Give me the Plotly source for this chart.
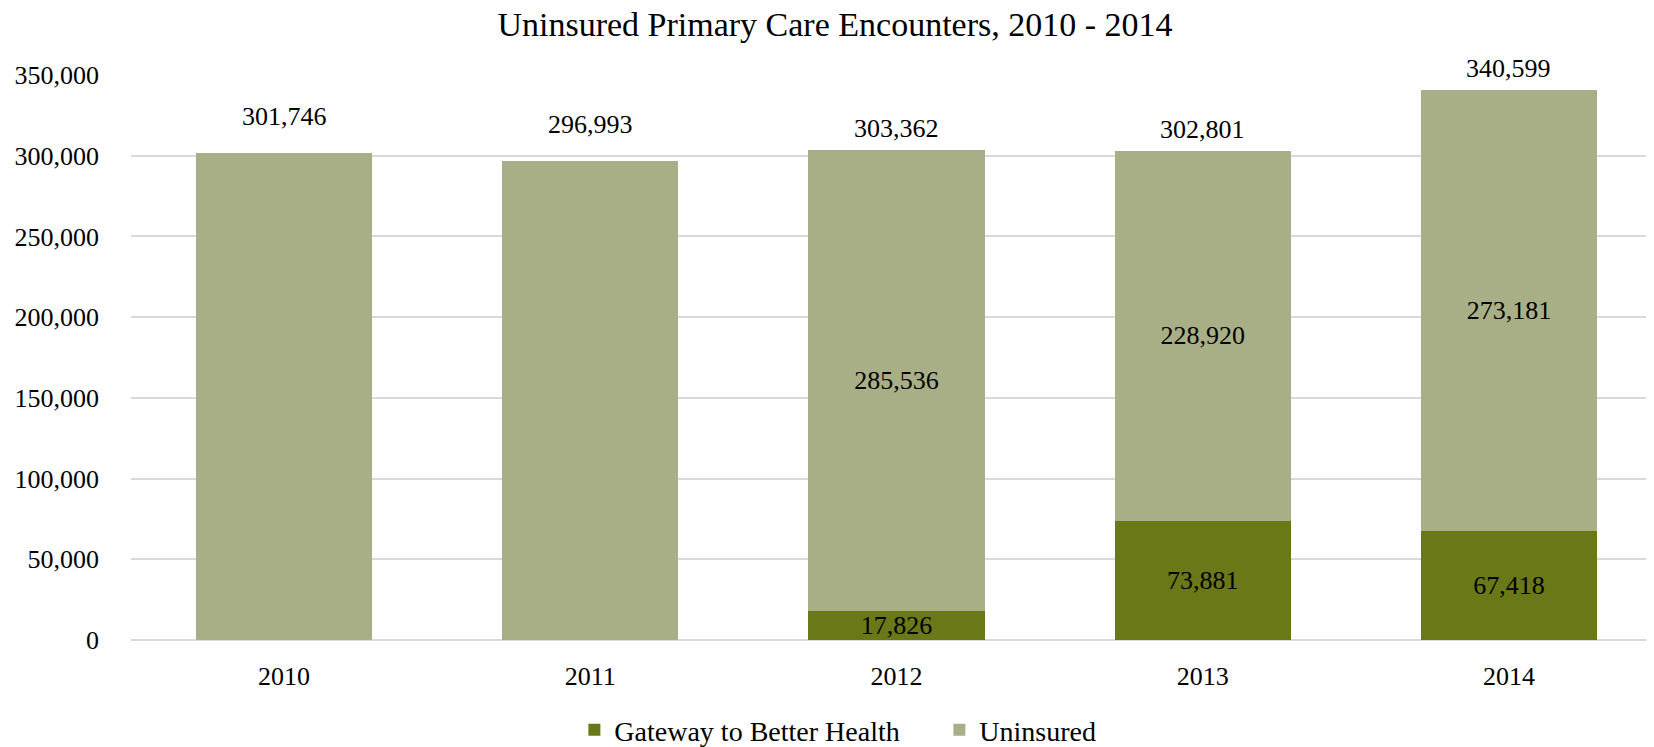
import plotly.graph_objects as go

years = ["2010", "2011", "2012", "2013", "2014"]
gateway = [0, 0, 17826, 73881, 67418]
uninsured = [301746, 296993, 285536, 228920, 273181]
totals = [301746, 296993, 303362, 302801, 340599]

FONT = "Liberation Serif"
DARK = "#6b7818"
LIGHT = "#a8af87"

# segment labels only where the bar is split
gw_text = [f"{v:,}" if v else "" for v in gateway]
un_text = [f"{u:,}" if g else "" for g, u in zip(gateway, uninsured)]

fig = go.Figure()
fig.add_trace(go.Bar(
    x=years, y=gateway, name="Gateway to Better Health",
    marker=dict(color=DARK, line=dict(width=0)),
    text=gw_text, textposition="inside", insidetextanchor="middle",
    constraintext="none", textangle=0,
    textfont=dict(color="black", size=26, family=FONT),
))
fig.add_trace(go.Bar(
    x=years, y=uninsured, name="Uninsured",
    marker=dict(color=LIGHT, line=dict(width=0)),
    text=un_text, textposition="inside", insidetextanchor="middle",
    constraintext="none", textangle=0,
    textfont=dict(color="black", size=26, family=FONT),
))

# totals above the bars (category axis: annotation x given as index)
for i, (tot, g) in enumerate(zip(totals, gateway)):
    fig.add_annotation(
        x=i, y=tot, text=f"{tot:,}", showarrow=False,
        yanchor="bottom", yshift=20 if g == 0 else 5,
        font=dict(size=26, family=FONT, color="black"),
    )

fig.update_layout(
    barmode="stack",
    bargap=0.425,
    width=1654, height=747,
    paper_bgcolor="white", plot_bgcolor="white",
    margin=dict(l=123, r=0, t=67, b=107),
    font=dict(family=FONT, size=26, color="black"),
    title=dict(
        text="Uninsured Primary Care Encounters, 2010 - 2014",
        x=0.5, xanchor="center", y=0.979, yanchor="middle",
        font=dict(size=34, family=FONT, color="black"),
    ),
    legend=dict(
        orientation="h", x=0.528, xanchor="center", y=-0.16, yanchor="middle",
        font=dict(size=28, family=FONT), traceorder="normal",
        entrywidth=320,
    ),
    showlegend=True,
)
fig.update_yaxes(
    range=[0, 350000], dtick=50000, tickformat=",",
    showgrid=True, gridcolor="#d9d9d9", gridwidth=2,
    zeroline=True, zerolinecolor="#d9d9d9", zerolinewidth=2,
    showline=False, ticks="", ticklabelstandoff=31,
)
fig.update_xaxes(type="category", range=[-0.5, 4.5], showgrid=False,
                 showline=False, ticks="", ticklabelstandoff=18)

fig.write_html("out.html")
